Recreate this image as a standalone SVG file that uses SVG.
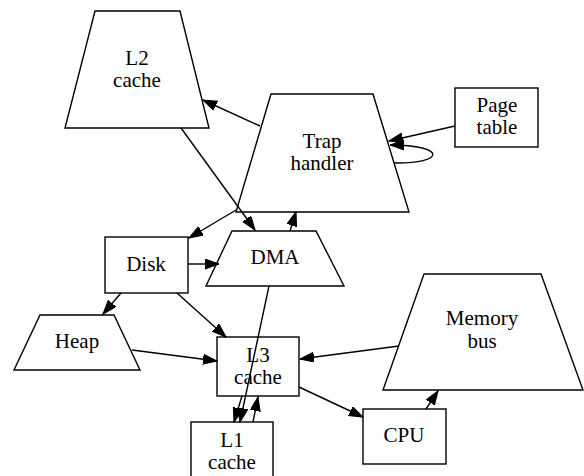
<svg xmlns="http://www.w3.org/2000/svg" width="584" height="476" viewBox="0 0 584 476">
<style>
.n{fill:#fff;stroke:#000;stroke-width:1.4}
text{font-family:'Liberation Serif','Times New Roman',serif;font-size:21px;text-anchor:middle;fill:#000}
.e{fill:none;stroke:#000;stroke-width:1.4;marker-end:url(#ah)}
</style>
<defs>
<marker id="ah" markerUnits="userSpaceOnUse" markerWidth="15" markerHeight="11" refX="14" refY="5" orient="auto">
<path d="M0,0 L14,5 L0,10 z" fill="#000" stroke="#000" stroke-width="1"/>
</marker>
</defs>
<rect width="584" height="476" fill="#fff"/>
<g id="l2cache">
<polygon class="n" points="95,11 180,11 209,128 65,128"/>
<text x="137" y="65">L2</text>
<text x="137" y="87">cache</text>
</g>
<g id="traphandler">
<polygon class="n" points="271,94 373,94 409,212 236,212"/>
<text x="322" y="148">Trap</text>
<text x="322" y="170">handler</text>
</g>
<g id="pagetable">
<rect class="n" x="455" y="88" width="83" height="59"/>
<text x="497" y="112">Page</text>
<text x="497" y="134">table</text>
</g>
<g id="disk">
<rect class="n" x="105" y="237" width="83" height="56"/>
<text x="146" y="271">Disk</text>
</g>
<g id="dma">
<polygon class="n" points="232,231 316,231 344,286 206,286"/>
<text x="275" y="264">DMA</text>
</g>
<g id="heap">
<polygon class="n" points="40,315 114,315 140,370 14,370"/>
<text x="77" y="348">Heap</text>
</g>
<g id="l3cache">
<rect class="n" x="217" y="337" width="82" height="59"/>
<text x="258" y="362">L3</text>
<text x="258" y="384">cache</text>
</g>
<g id="l1cache">
<rect class="n" x="191" y="422" width="82" height="58"/>
<text x="232" y="447">L1</text>
<text x="232" y="469">cache</text>
</g>
<g id="memorybus">
<polygon class="n" points="424,274 541,274 583,390 383,390"/>
<text x="482" y="325">Memory</text>
<text x="482" y="348">bus</text>
</g>
<g id="cpu">
<rect class="n" x="363" y="409" width="83" height="55"/>
<text x="404" y="442">CPU</text>
</g>
<g id="edges">
<path class="e" d="M260,126 L203,100"/>
<path class="e" d="M455,126 L389,141"/>
<path class="e" d="M394,163 C445,164 448,145 390,145"/>
<path class="e" d="M181,128 L255,230"/>
<path class="e" d="M236,210 L189,238"/>
<path class="e" d="M290,231 L296,212"/>
<path class="e" d="M188,264 L219,264"/>
<path class="e" d="M121,293 L103,314"/>
<path class="e" d="M177,293 L226,337"/>
<path class="e" d="M132,350 L217,361"/>
<path class="e" d="M399,346 L300,359"/>
<path class="e" d="M299,387 L363,417"/>
<path class="e" d="M426,409 L438,391"/>
<path class="e" d="M269,286 L240,422"/>
<path class="e" d="M242,396 L234,422"/>
<path class="e" d="M253,422 L258,397"/>
</g>
</svg>
